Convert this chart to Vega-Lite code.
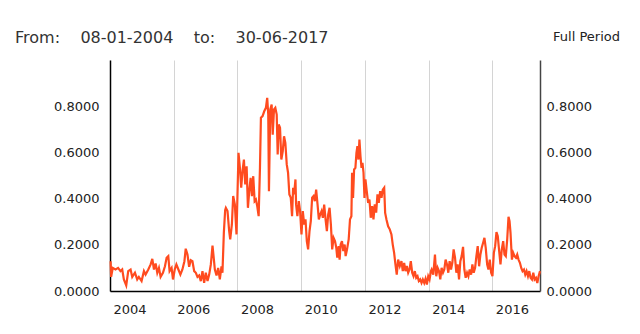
{
  "$schema": "https://vega.github.io/schema/vega-lite/v6.json",
  "width": 430,
  "height": 231,
  "autosize": {"type": "none"},
  "padding": {"left": 110, "top": 60, "right": 100, "bottom": 43},
  "background": "white",
  "title": {"text": "From:\u00a0\u00a0\u00a0\u00a008-01-2004\u00a0\u00a0\u00a0\u00a0to:\u00a0\u00a0\u00a0\u00a030-06-2017", "anchor": "start", "frame": "group", "dx": -95, "offset": -16, "fontSize": 16, "font": "DejaVu Sans", "fontWeight": "normal", "color": "#333333"},
  "config": {"view": {"stroke": null}, "font": "DejaVu Sans"},
  "data": {"values": [
    {"date": "2004-01-08", "value": 0.129}, {"date": "2004-01-14", "value": 0.061}, {"date": "2004-02-02", "value": 0.100}, {"date": "2004-03-04", "value": 0.093},
    {"date": "2004-04-03", "value": 0.100}, {"date": "2004-04-30", "value": 0.086}, {"date": "2004-05-20", "value": 0.093}, {"date": "2004-06-08", "value": 0.050},
    {"date": "2004-07-05", "value": 0.024}, {"date": "2004-07-28", "value": 0.086}, {"date": "2004-08-24", "value": 0.093}, {"date": "2004-09-12", "value": 0.061},
    {"date": "2004-10-13", "value": 0.079}, {"date": "2004-11-08", "value": 0.050}, {"date": "2004-11-27", "value": 0.061}, {"date": "2004-12-28", "value": 0.043},
    {"date": "2005-01-24", "value": 0.086}, {"date": "2005-02-12", "value": 0.071}, {"date": "2005-03-15", "value": 0.093}, {"date": "2005-04-11", "value": 0.115},
    {"date": "2005-04-30", "value": 0.139}, {"date": "2005-05-19", "value": 0.093}, {"date": "2005-06-07", "value": 0.119}, {"date": "2005-06-26", "value": 0.079},
    {"date": "2005-07-15", "value": 0.100}, {"date": "2005-08-03", "value": 0.061}, {"date": "2005-08-30", "value": 0.079}, {"date": "2005-09-22", "value": 0.107},
    {"date": "2005-10-11", "value": 0.144}, {"date": "2005-10-30", "value": 0.151}, {"date": "2005-11-14", "value": 0.086}, {"date": "2005-12-07", "value": 0.100},
    {"date": "2005-12-23", "value": 0.050}, {"date": "2006-01-12", "value": 0.093}, {"date": "2006-01-31", "value": 0.115}, {"date": "2006-02-23", "value": 0.093},
    {"date": "2006-03-18", "value": 0.071}, {"date": "2006-04-10", "value": 0.093}, {"date": "2006-05-03", "value": 0.129}, {"date": "2006-05-18", "value": 0.183},
    {"date": "2006-06-07", "value": 0.158}, {"date": "2006-06-26", "value": 0.105}, {"date": "2006-07-15", "value": 0.133}, {"date": "2006-08-03", "value": 0.129},
    {"date": "2006-08-23", "value": 0.086}, {"date": "2006-09-11", "value": 0.079}, {"date": "2006-09-30", "value": 0.061}, {"date": "2006-10-19", "value": 0.067},
    {"date": "2006-11-07", "value": 0.043}, {"date": "2006-11-26", "value": 0.086}, {"date": "2006-12-15", "value": 0.035}, {"date": "2007-01-03", "value": 0.079},
    {"date": "2007-01-23", "value": 0.043}, {"date": "2007-02-11", "value": 0.071}, {"date": "2007-03-02", "value": 0.115}, {"date": "2007-03-21", "value": 0.197},
    {"date": "2007-04-02", "value": 0.151}, {"date": "2007-04-17", "value": 0.093}, {"date": "2007-05-06", "value": 0.067}, {"date": "2007-05-25", "value": 0.100},
    {"date": "2007-06-13", "value": 0.050}, {"date": "2007-07-02", "value": 0.107}, {"date": "2007-07-13", "value": 0.079}, {"date": "2007-07-29", "value": 0.252},
    {"date": "2007-08-13", "value": 0.350}, {"date": "2007-08-21", "value": 0.360}, {"date": "2007-09-09", "value": 0.346}, {"date": "2007-09-28", "value": 0.259},
    {"date": "2007-10-10", "value": 0.223}, {"date": "2007-10-29", "value": 0.288}, {"date": "2007-11-13", "value": 0.411}, {"date": "2007-12-02", "value": 0.375},
    {"date": "2007-12-21", "value": 0.245}, {"date": "2008-01-13", "value": 0.598}, {"date": "2008-01-29", "value": 0.533}, {"date": "2008-02-13", "value": 0.447},
    {"date": "2008-02-28", "value": 0.519}, {"date": "2008-03-15", "value": 0.569}, {"date": "2008-03-30", "value": 0.461}, {"date": "2008-04-15", "value": 0.540},
    {"date": "2008-04-30", "value": 0.360}, {"date": "2008-05-15", "value": 0.432}, {"date": "2008-05-31", "value": 0.490}, {"date": "2008-06-15", "value": 0.411},
    {"date": "2008-06-30", "value": 0.497}, {"date": "2008-07-16", "value": 0.389}, {"date": "2008-07-31", "value": 0.396}, {"date": "2008-08-15", "value": 0.367},
    {"date": "2008-08-31", "value": 0.324}, {"date": "2008-09-15", "value": 0.533}, {"date": "2008-09-26", "value": 0.750}, {"date": "2008-10-15", "value": 0.757},
    {"date": "2008-11-03", "value": 0.778}, {"date": "2008-11-22", "value": 0.793}, {"date": "2008-12-07", "value": 0.836}, {"date": "2008-12-19", "value": 0.764},
    {"date": "2008-12-27", "value": 0.432}, {"date": "2009-01-11", "value": 0.786}, {"date": "2009-01-27", "value": 0.807}, {"date": "2009-02-08", "value": 0.677},
    {"date": "2009-02-23", "value": 0.786}, {"date": "2009-03-10", "value": 0.793}, {"date": "2009-03-26", "value": 0.764}, {"date": "2009-04-06", "value": 0.591},
    {"date": "2009-04-18", "value": 0.721}, {"date": "2009-05-03", "value": 0.707}, {"date": "2009-05-18", "value": 0.569}, {"date": "2009-06-03", "value": 0.605},
    {"date": "2009-06-18", "value": 0.670}, {"date": "2009-07-03", "value": 0.641}, {"date": "2009-07-19", "value": 0.548}, {"date": "2009-08-03", "value": 0.512},
    {"date": "2009-08-18", "value": 0.418}, {"date": "2009-09-03", "value": 0.404}, {"date": "2009-09-18", "value": 0.324}, {"date": "2009-09-30", "value": 0.447},
    {"date": "2009-10-11", "value": 0.418}, {"date": "2009-10-27", "value": 0.483}, {"date": "2009-11-03", "value": 0.375}, {"date": "2009-11-18", "value": 0.324},
    {"date": "2009-12-04", "value": 0.389}, {"date": "2009-12-19", "value": 0.346}, {"date": "2010-01-04", "value": 0.245}, {"date": "2010-01-19", "value": 0.346},
    {"date": "2010-02-04", "value": 0.288}, {"date": "2010-02-19", "value": 0.310}, {"date": "2010-03-06", "value": 0.216}, {"date": "2010-03-21", "value": 0.180},
    {"date": "2010-04-06", "value": 0.259}, {"date": "2010-04-21", "value": 0.303}, {"date": "2010-05-06", "value": 0.404}, {"date": "2010-05-22", "value": 0.411},
    {"date": "2010-06-06", "value": 0.389}, {"date": "2010-06-21", "value": 0.439}, {"date": "2010-07-07", "value": 0.375}, {"date": "2010-07-22", "value": 0.310},
    {"date": "2010-08-06", "value": 0.331}, {"date": "2010-08-22", "value": 0.346}, {"date": "2010-09-06", "value": 0.317}, {"date": "2010-09-21", "value": 0.374},
    {"date": "2010-10-07", "value": 0.310}, {"date": "2010-10-22", "value": 0.259}, {"date": "2010-11-06", "value": 0.331}, {"date": "2010-11-22", "value": 0.360},
    {"date": "2010-12-07", "value": 0.288}, {"date": "2010-12-22", "value": 0.180}, {"date": "2011-01-07", "value": 0.230}, {"date": "2011-01-23", "value": 0.216},
    {"date": "2011-02-07", "value": 0.187}, {"date": "2011-02-18", "value": 0.144}, {"date": "2011-03-06", "value": 0.194}, {"date": "2011-03-17", "value": 0.136},
    {"date": "2011-03-29", "value": 0.201}, {"date": "2011-04-13", "value": 0.216}, {"date": "2011-04-28", "value": 0.173}, {"date": "2011-05-14", "value": 0.201},
    {"date": "2011-05-25", "value": 0.151}, {"date": "2011-06-10", "value": 0.180}, {"date": "2011-06-29", "value": 0.223}, {"date": "2011-07-14", "value": 0.310},
    {"date": "2011-07-30", "value": 0.324}, {"date": "2011-08-07", "value": 0.512}, {"date": "2011-08-18", "value": 0.403}, {"date": "2011-08-30", "value": 0.526},
    {"date": "2011-09-14", "value": 0.533}, {"date": "2011-09-26", "value": 0.598}, {"date": "2011-10-07", "value": 0.627}, {"date": "2011-10-19", "value": 0.569},
    {"date": "2011-10-30", "value": 0.656}, {"date": "2011-11-11", "value": 0.584}, {"date": "2011-11-23", "value": 0.533}, {"date": "2011-12-04", "value": 0.555},
    {"date": "2011-12-16", "value": 0.512}, {"date": "2011-12-27", "value": 0.403}, {"date": "2012-01-07", "value": 0.483}, {"date": "2012-01-22", "value": 0.432},
    {"date": "2012-02-07", "value": 0.382}, {"date": "2012-02-22", "value": 0.396}, {"date": "2012-03-08", "value": 0.317}, {"date": "2012-03-24", "value": 0.367},
    {"date": "2012-04-08", "value": 0.310}, {"date": "2012-04-23", "value": 0.375}, {"date": "2012-05-09", "value": 0.339}, {"date": "2012-05-24", "value": 0.418},
    {"date": "2012-06-08", "value": 0.382}, {"date": "2012-06-24", "value": 0.432}, {"date": "2012-07-09", "value": 0.403}, {"date": "2012-07-24", "value": 0.439},
    {"date": "2012-08-09", "value": 0.447}, {"date": "2012-08-20", "value": 0.338}, {"date": "2012-09-04", "value": 0.310}, {"date": "2012-09-23", "value": 0.280},
    {"date": "2012-10-12", "value": 0.267}, {"date": "2012-10-31", "value": 0.245}, {"date": "2012-11-15", "value": 0.201}, {"date": "2012-12-01", "value": 0.165},
    {"date": "2012-12-16", "value": 0.115}, {"date": "2012-12-31", "value": 0.071}, {"date": "2013-01-16", "value": 0.136}, {"date": "2013-02-04", "value": 0.108},
    {"date": "2013-02-23", "value": 0.129}, {"date": "2013-03-10", "value": 0.086}, {"date": "2013-03-26", "value": 0.122}, {"date": "2013-04-10", "value": 0.086},
    {"date": "2013-04-25", "value": 0.108}, {"date": "2013-05-11", "value": 0.079}, {"date": "2013-05-26", "value": 0.093}, {"date": "2013-06-10", "value": 0.129},
    {"date": "2013-06-26", "value": 0.079}, {"date": "2013-07-11", "value": 0.064}, {"date": "2013-07-26", "value": 0.086}, {"date": "2013-08-11", "value": 0.057},
    {"date": "2013-08-26", "value": 0.064}, {"date": "2013-09-10", "value": 0.043}, {"date": "2013-09-26", "value": 0.050}, {"date": "2013-10-11", "value": 0.035},
    {"date": "2013-10-26", "value": 0.050}, {"date": "2013-11-11", "value": 0.035}, {"date": "2013-11-26", "value": 0.053}, {"date": "2013-12-11", "value": 0.028},
    {"date": "2013-12-27", "value": 0.064}, {"date": "2014-01-11", "value": 0.050}, {"date": "2014-01-27", "value": 0.086}, {"date": "2014-02-04", "value": 0.093},
    {"date": "2014-02-23", "value": 0.071}, {"date": "2014-03-14", "value": 0.158}, {"date": "2014-03-29", "value": 0.064}, {"date": "2014-04-14", "value": 0.100},
    {"date": "2014-04-29", "value": 0.086}, {"date": "2014-05-14", "value": 0.050}, {"date": "2014-05-29", "value": 0.100}, {"date": "2014-06-14", "value": 0.079},
    {"date": "2014-06-29", "value": 0.093}, {"date": "2014-07-14", "value": 0.136}, {"date": "2014-07-30", "value": 0.115}, {"date": "2014-08-14", "value": 0.079},
    {"date": "2014-08-29", "value": 0.129}, {"date": "2014-09-14", "value": 0.093}, {"date": "2014-09-29", "value": 0.122}, {"date": "2014-10-14", "value": 0.180},
    {"date": "2014-10-30", "value": 0.144}, {"date": "2014-11-14", "value": 0.079}, {"date": "2014-11-29", "value": 0.115}, {"date": "2014-12-15", "value": 0.050},
    {"date": "2014-12-30", "value": 0.129}, {"date": "2015-01-14", "value": 0.151}, {"date": "2015-01-30", "value": 0.191}, {"date": "2015-02-14", "value": 0.093},
    {"date": "2015-03-01", "value": 0.057}, {"date": "2015-03-17", "value": 0.079}, {"date": "2015-04-01", "value": 0.064}, {"date": "2015-04-16", "value": 0.093},
    {"date": "2015-05-02", "value": 0.071}, {"date": "2015-05-17", "value": 0.115}, {"date": "2015-06-01", "value": 0.079}, {"date": "2015-06-17", "value": 0.100},
    {"date": "2015-07-02", "value": 0.151}, {"date": "2015-07-17", "value": 0.194}, {"date": "2015-08-02", "value": 0.107}, {"date": "2015-08-17", "value": 0.158},
    {"date": "2015-09-01", "value": 0.187}, {"date": "2015-09-17", "value": 0.209}, {"date": "2015-10-02", "value": 0.230}, {"date": "2015-10-17", "value": 0.187},
    {"date": "2015-11-02", "value": 0.115}, {"date": "2015-11-17", "value": 0.093}, {"date": "2015-12-02", "value": 0.136}, {"date": "2015-12-18", "value": 0.079},
    {"date": "2016-01-02", "value": 0.064}, {"date": "2016-01-18", "value": 0.165}, {"date": "2016-02-02", "value": 0.194}, {"date": "2016-02-17", "value": 0.255},
    {"date": "2016-03-03", "value": 0.237}, {"date": "2016-03-19", "value": 0.173}, {"date": "2016-04-03", "value": 0.115}, {"date": "2016-04-18", "value": 0.180},
    {"date": "2016-05-04", "value": 0.216}, {"date": "2016-05-19", "value": 0.158}, {"date": "2016-06-03", "value": 0.151}, {"date": "2016-06-19", "value": 0.223},
    {"date": "2016-07-04", "value": 0.321}, {"date": "2016-07-16", "value": 0.302}, {"date": "2016-07-27", "value": 0.252}, {"date": "2016-08-12", "value": 0.136},
    {"date": "2016-08-27", "value": 0.165}, {"date": "2016-09-11", "value": 0.151}, {"date": "2016-09-27", "value": 0.144}, {"date": "2016-10-12", "value": 0.158},
    {"date": "2016-10-27", "value": 0.136}, {"date": "2016-11-12", "value": 0.122}, {"date": "2016-11-27", "value": 0.100}, {"date": "2016-12-12", "value": 0.086},
    {"date": "2016-12-28", "value": 0.093}, {"date": "2017-01-12", "value": 0.071}, {"date": "2017-01-27", "value": 0.086}, {"date": "2017-02-12", "value": 0.064},
    {"date": "2017-02-27", "value": 0.086}, {"date": "2017-03-14", "value": 0.057}, {"date": "2017-03-30", "value": 0.050}, {"date": "2017-04-14", "value": 0.079},
    {"date": "2017-04-29", "value": 0.050}, {"date": "2017-05-15", "value": 0.057}, {"date": "2017-05-30", "value": 0.035}, {"date": "2017-06-14", "value": 0.064},
    {"date": "2017-06-30", "value": 0.086}
  ]},
  "layer": [
    {
      "mark": {"type": "line", "color": "#ff4b1f", "strokeWidth": 2.2},
      "encoding": {
        "x": {
          "field": "date", "type": "temporal",
          "scale": {"domain": [{"year": 2004, "month": 1, "date": 1}, {"year": 2017, "month": 6, "date": 30}]},
          "axis": {
            "title": null, "orient": "bottom",
            "values": [{"year": 2004, "month": 1, "date": 1}, {"year": 2006, "month": 1, "date": 1}, {"year": 2008, "month": 1, "date": 1}, {"year": 2010, "month": 1, "date": 1}, {"year": 2012, "month": 1, "date": 1}, {"year": 2014, "month": 1, "date": 1}, {"year": 2016, "month": 1, "date": 1}],
            "format": "%Y", "labelAlign": "left", "labelOffset": 3, "labelPadding": 12,
            "labelFontSize": 13, "labelColor": "#222222", "labelFont": "DejaVu Sans",
            "ticks": false, "domainColor": "#000000", "domainWidth": 1.5,
            "grid": true, "gridColor": "#d4d4d4", "gridWidth": 1
          }
        },
        "y": {
          "field": "value", "type": "quantitative",
          "scale": {"domain": [0, 1]},
          "axis": {
            "title": null, "orient": "left", "values": [0, 0.2, 0.4, 0.6, 0.8], "format": ".4f",
            "labelFontSize": 13, "labelColor": "#222222", "labelFont": "DejaVu Sans", "labelPadding": 11,
            "ticks": false, "grid": false, "domainColor": "#000000", "domainWidth": 1.5
          }
        }
      }
    },
    {
      "mark": {"type": "line", "opacity": 0},
      "encoding": {
        "x": {
          "field": "date", "type": "temporal",
          "axis": {
            "orient": "top", "labels": false, "ticks": false, "domain": false, "grid": false,
            "title": "Full Period", "titleX": 476, "titleY": -24, "titleAlign": "center", "titleBaseline": "middle",
            "titleFontSize": 13, "titleFontWeight": "normal", "titleColor": "#222222", "titleFont": "DejaVu Sans"
          }
        },
        "y": {
          "field": "value", "type": "quantitative",
          "axis": {
            "title": null, "orient": "right", "values": [0, 0.2, 0.4, 0.6, 0.8], "format": ".4f",
            "labelFontSize": 13, "labelColor": "#222222", "labelFont": "DejaVu Sans", "labelPadding": 6,
            "ticks": false, "grid": false, "domainColor": "#444444", "domainWidth": 1.5
          }
        }
      }
    }
  ],
  "resolve": {"axis": {"x": "independent", "y": "independent"}}
}
